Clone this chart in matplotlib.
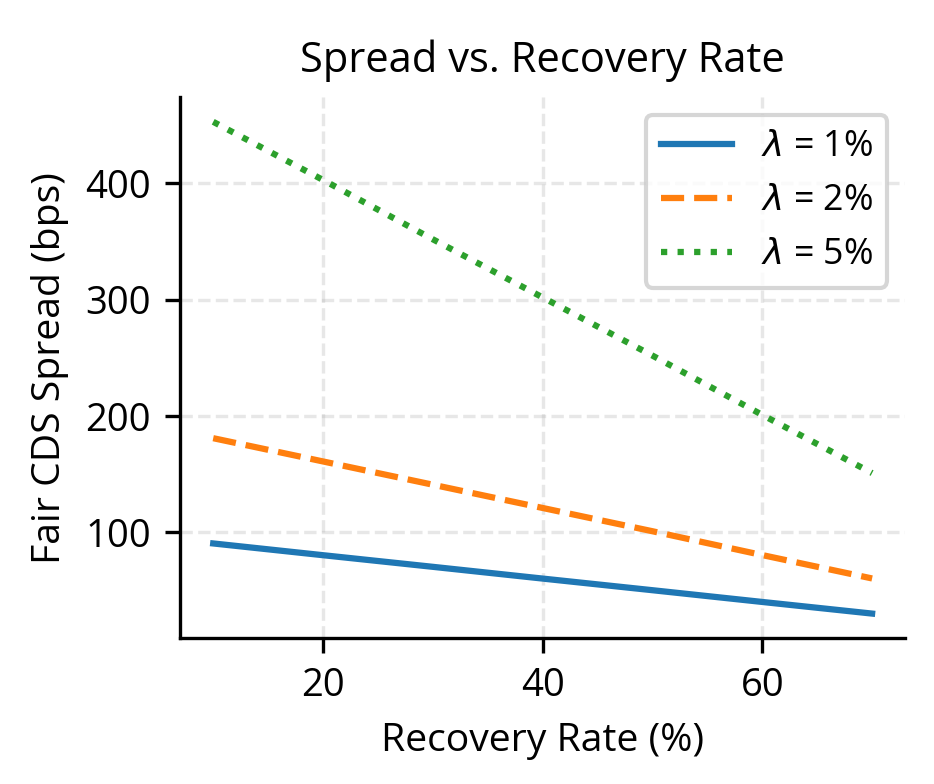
import matplotlib
matplotlib.use('Agg')
import matplotlib.pyplot as plt

plt.rcParams['font.family'] = ['Open Sans', 'DejaVu Sans']

# recovery rate (%) and fair spreads (bps) per hazard rate
recovery = [10, 20, 30, 40, 50, 60, 70]
spread_1 = [90.5, 80.4, 70.4, 60.3, 50.3, 40.2, 30.2]
spread_2 = [181, 161, 141, 121, 101, 80.5, 60.4]
spread_5 = [453, 403, 352, 302, 252, 201, 151]
labels = [r'$\lambda$ = 1%', r'$\lambda$ = 2%', r'$\lambda$ = 5%']

fig, ax = plt.subplots(figsize=(934 / 300, 784 / 300), dpi=300)
fig.subplots_adjust(left=0.193, right=0.969, top=0.876, bottom=0.186)

ax.plot(recovery, spread_1, '-', color='#1f77b4', lw=1.5, label=labels[0])
ax.plot(recovery, spread_2, '--', color='#ff7f0e', lw=1.5, label=labels[1])
ax.plot(recovery, spread_5, ':', color='#2ca02c', lw=1.5, label=labels[2])

ax.set_title('Spread vs. Recovery Rate', fontsize=10)
ax.set_xlabel('Recovery Rate (%)', fontsize=9.4)
ax.set_ylabel('Fair CDS Spread (bps)', fontsize=9.4)
ax.tick_params(labelsize=9.2)
ax.set_yticks([100, 200, 300, 400])
ax.set_xticks([20, 40, 60])
ax.grid(True, ls='--', alpha=0.3)
ax.spines['top'].set_visible(False)
ax.spines['right'].set_visible(False)
ax.legend(fontsize=8.6, loc='upper right')

fig.savefig('out.png', dpi=300)
